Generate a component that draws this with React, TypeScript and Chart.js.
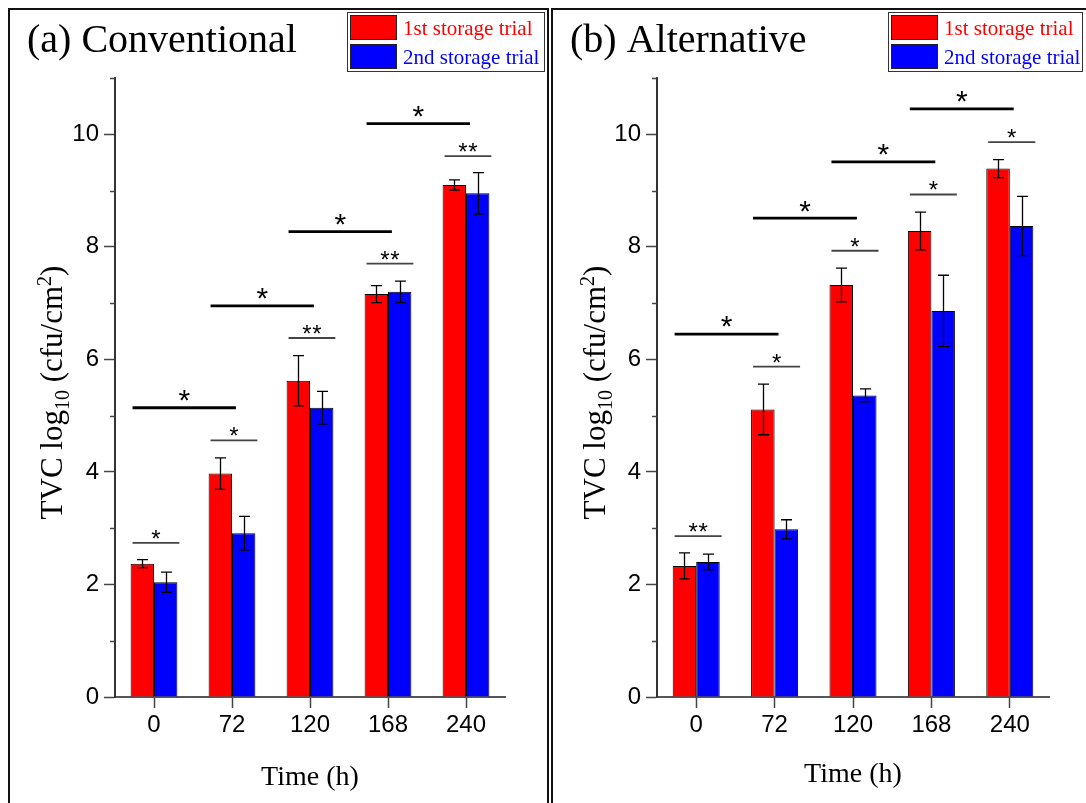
import React, { useEffect, useRef } from "react";
import { Chart, registerables } from "chart.js";

Chart.register(...registerables);

// ---------- data ----------
const timeLabels = ["0", "72", "120", "168", "240"];
const seriesNames = ["1st storage trial", "2nd storage trial"];
const yMax = 11;

// (a) Conventional
const convFirst = [2.37, 3.97, 5.62, 7.16, 9.1];
const convFirstErr = [0.07, 0.28, 0.445, 0.15, 0.09];
const convSecond = [2.04, 2.91, 5.14, 7.2, 8.95];
const convSecondErr = [0.18, 0.3, 0.29, 0.19, 0.37];
const convWithinLevel = [2.74, 4.56, 6.38, 7.7, 9.61];
const convWithinMark = ["*", "*", "**", "**", "**"];
const convBetweenLevel = [5.14, 6.95, 8.27, 10.19];
const convBetweenMark = ["*", "*", "*", "*"];

// (b) Alternative
const altFirst = [2.33, 5.11, 7.32, 8.28, 9.39];
const altFirstErr = [0.23, 0.45, 0.3, 0.335, 0.16];
const altSecond = [2.4, 2.98, 5.36, 6.86, 8.37];
const altSecondErr = [0.14, 0.17, 0.115, 0.635, 0.525];
const altWithinLevel = [2.86, 5.87, 7.93, 8.93, 9.86];
const altWithinMark = ["**", "*", "*", "*", "*"];
const altBetweenLevel = [6.45, 8.51, 9.51, 10.45];
const altBetweenMark = ["*", "*", "*", "*"];

const SERIF = '"Liberation Serif", "Times New Roman", Times, serif';
const SANS = '"Liberation Sans", Arial, Helvetica, sans-serif';
const RED = "#ff0000";
const BLUE = "#0000ff";

type PanelProps = {
  title: string;
  first: number[];
  firstErr: number[];
  second: number[];
  secondErr: number[];
  withinLevel: number[];
  withinMark: string[];
  betweenLevel: number[];
  betweenMark: string[];
  left: number;
  width: number;
  yAxisWidth: number;
  padRight: number;
  legendX: number;
  legendW: number;
  xTitlePad: number;
};

const CANVAS_H = 793;

function Panel(p: PanelProps) {
  const ref = useRef<HTMLCanvasElement>(null);

  useEffect(() => {
    const canvas = ref.current!;

    const overlay = {
      id: "overlay",
      afterDatasetsDraw(chart: any) {
        const ctx = chart.ctx as CanvasRenderingContext2D;
        const xs = chart.scales.x;
        const ys = chart.scales.y;
        // error bars
        const sets: [number[], number[]][] = [
          [p.first, p.firstErr],
          [p.second, p.secondErr],
        ];
        ctx.save();
        ctx.strokeStyle = "#000";
        ctx.lineWidth = 1.3;
        sets.forEach(([vals, errs], di) => {
          const meta = chart.getDatasetMeta(di);
          meta.data.forEach((bar: any, i: number) => {
            const x = Math.round(bar.x) + 0.5;
            const t = ys.getPixelForValue(vals[i] + errs[i]);
            const b = ys.getPixelForValue(vals[i] - errs[i]);
            const cap = 5.5;
            ctx.beginPath();
            ctx.moveTo(x, t);
            ctx.lineTo(x, b);
            ctx.moveTo(x - cap, t);
            ctx.lineTo(x + cap, t);
            ctx.moveTo(x - cap, b);
            ctx.lineTo(x + cap, b);
            ctx.stroke();
          });
        });
        // significance marks
        const w = xs.width / timeLabels.length;
        ctx.textAlign = "center";
        ctx.textBaseline = "alphabetic";
        p.withinLevel.forEach((lvl, i) => {
          const c = xs.getPixelForValue(i);
          const y = ys.getPixelForValue(lvl);
          ctx.strokeStyle = "#444";
          ctx.lineWidth = 1.8;
          ctx.beginPath();
          ctx.moveTo(c - 0.275 * w, y);
          ctx.lineTo(c + 0.325 * w, y);
          ctx.stroke();
          const size = 24;
          ctx.fillStyle = "#000";
          ctx.font = `${size}px ${SANS}`;
          const mark = p.withinMark[i];
          const cxm = c + 0.025 * w;
          const by = y - 10 + 0.58 * size;
          if (mark.length === 2) {
            ctx.fillText("*", cxm - 5, by);
            ctx.fillText("*", cxm + 5, by);
          } else {
            ctx.fillText(mark, cxm, by);
          }
        });
        p.betweenLevel.forEach((lvl, i) => {
          const c0 = xs.getPixelForValue(i);
          const c1 = xs.getPixelForValue(i + 1);
          const y = ys.getPixelForValue(lvl);
          const x0 = c0 - 0.275 * w;
          const x1 = c1 + 0.05 * w;
          ctx.strokeStyle = "#000";
          ctx.lineWidth = 2.8;
          ctx.beginPath();
          ctx.moveTo(x0, y);
          ctx.lineTo(x1, y);
          ctx.stroke();
          const size = 30;
          ctx.fillStyle = "#000";
          ctx.font = `${size}px ${SANS}`;
          ctx.fillText(p.betweenMark[i], (x0 + x1) / 2, y - 15 + 0.58 * size);
        });
        ctx.restore();
      },
      afterDraw(chart: any) {
        const ctx = chart.ctx as CanvasRenderingContext2D;
        const ys = chart.scales.y;
        const area = chart.chartArea;
        ctx.save();
        // minor ticks
        ctx.strokeStyle = "#444";
        ctx.lineWidth = 1.5;
        for (let v = 1; v <= yMax; v += 2) {
          const y = Math.round(ys.getPixelForValue(v)) + 0.5;
          ctx.beginPath();
          ctx.moveTo(area.left - 5, y);
          ctx.lineTo(area.left, y);
          ctx.stroke();
        }
        // y title with subscript / superscript
        const big = 31;
        const small = 20;
        const parts = [
          { t: "TVC log", s: big, dy: 0 },
          { t: "10", s: small, dy: 7 },
          { t: " (cfu/cm", s: big, dy: 0 },
          { t: "2", s: small, dy: -11 },
          { t: ")", s: big, dy: 0 },
        ];
        let total = 0;
        parts.forEach((pt) => {
          ctx.font = `${pt.s}px ${SERIF}`;
          total += ctx.measureText(pt.t).width;
        });
        const cx = 42;
        const cy = (area.top + area.bottom) / 2 + 5;
        ctx.translate(cx, cy);
        ctx.rotate(-Math.PI / 2);
        ctx.fillStyle = "#000";
        ctx.textAlign = "left";
        ctx.textBaseline = "alphabetic";
        let xx = -total / 2;
        const base = 10;
        parts.forEach((pt) => {
          ctx.font = `${pt.s}px ${SERIF}`;
          ctx.fillText(pt.t, xx, base + pt.dy);
          xx += ctx.measureText(pt.t).width;
        });
        ctx.setTransform(1, 0, 0, 1, 0, 0);
        // panel title
        ctx.font = `40px ${SERIF}`;
        ctx.textAlign = "left";
        ctx.fillStyle = "#000";
        ctx.fillText(p.title, 17, 42);
        // legend
        const lx = p.legendX;
        ctx.strokeStyle = "#333";
        ctx.lineWidth = 1;
        ctx.strokeRect(lx + 0.5, 2.5, p.legendW, 59);
        const sw = [
          { c: RED, y: 5, label: seriesNames[0] },
          { c: BLUE, y: 34, label: seriesNames[1] },
        ];
        sw.forEach((s) => {
          ctx.fillStyle = s.c;
          ctx.fillRect(lx + 3, s.y, 47, 25);
          ctx.strokeStyle = "#222";
          ctx.strokeRect(lx + 3.5, s.y + 0.5, 46, 24);
          ctx.font = `21px ${SERIF}`;
          ctx.fillStyle = s.c;
          ctx.fillText(s.label, lx + 56, s.y + 20);
        });
        ctx.restore();
      },
    };

    const chart = new Chart(canvas, {
      type: "bar",
      data: {
        labels: timeLabels,
        datasets: [
          {
            label: seriesNames[0],
            data: p.first,
            backgroundColor: RED,
            borderColor: "#000",
            borderWidth: 1,
            categoryPercentage: 0.6,
            barPercentage: 1,
          },
          {
            label: seriesNames[1],
            data: p.second,
            backgroundColor: BLUE,
            borderColor: "#000",
            borderWidth: 1,
            categoryPercentage: 0.6,
            barPercentage: 1,
          },
        ],
      },
      options: {
        responsive: false,
        animation: false,
        devicePixelRatio: 1,
        layout: { padding: { left: 0, right: p.padRight, top: 68, bottom: 0 } },
        plugins: { legend: { display: false }, tooltip: { enabled: false } },
        scales: {
          x: {
            grid: {
              display: true,
              drawOnChartArea: false,
              offset: false,
              tickLength: 11,
              tickColor: "#444",
              tickWidth: 1.5,
            },
            border: { display: true, color: "#555", width: 2 },
            ticks: { color: "#000", font: { family: SANS, size: 24 }, padding: 3 },
            title: {
              display: true,
              text: "Time (h)",
              color: "#000",
              font: { family: SERIF, size: 28 },
              padding: { top: 0, bottom: p.xTitlePad },
            },
            afterFit: (s: any) => {
              s.height = 106;
            },
          },
          y: {
            min: 0,
            max: yMax,
            ticks: {
              stepSize: 1,
              autoSkip: false,
              color: "#000",
              font: { family: SANS, size: 24 },
              padding: 5,
              callback: (v: any) => (Number(v) % 2 === 0 ? String(v) : ""),
            },
            grid: {
              drawOnChartArea: false,
              tickLength: 11,
              tickWidth: 1.5,
              tickColor: (c: any) =>
                c.tick && c.tick.value % 2 === 0 ? "#444" : "rgba(0,0,0,0)",
            },
            border: { display: true, color: "#333", width: 2 },
            afterFit: (s: any) => {
              s.width = p.yAxisWidth;
            },
          },
        },
      } as any,
      plugins: [overlay],
    });
    return () => chart.destroy();
  }, []);

  return (
    <canvas
      ref={ref}
      width={p.width}
      height={CANVAS_H}
      style={{
        position: "absolute",
        left: p.left,
        top: 10,
        width: p.width,
        height: CANVAS_H,
        display: "block",
      }}
    />
  );
}

export default function App() {
  return (
    <div
      style={{
        position: "fixed",
        left: 0,
        top: 0,
        width: 1086,
        height: 803,
        overflow: "hidden",
        background: "#fff",
      }}
    >
      <div
        style={{
          position: "absolute",
          left: 8,
          top: 8,
          width: 541,
          height: 830,
          border: "2px solid #111",
          boxSizing: "border-box",
        }}
      />
      <div
        style={{
          position: "absolute",
          left: 551,
          top: 8,
          width: 600,
          height: 830,
          border: "2px solid #111",
          boxSizing: "border-box",
        }}
      />
      <Panel
        title="(a) Conventional"
        first={convFirst}
        firstErr={convFirstErr}
        second={convSecond}
        secondErr={convSecondErr}
        withinLevel={convWithinLevel}
        withinMark={convWithinMark}
        betweenLevel={convBetweenLevel}
        betweenMark={convBetweenMark}
        left={10}
        width={536}
        yAxisWidth={105}
        padRight={41}
        legendX={337}
        legendW={197}
        xTitlePad={9}
      />
      <Panel
        title="(b) Alternative"
        first={altFirst}
        firstErr={altFirstErr}
        second={altSecond}
        secondErr={altSecondErr}
        withinLevel={altWithinLevel}
        withinMark={altWithinMark}
        betweenLevel={altBetweenLevel}
        betweenMark={altBetweenMark}
        left={553}
        width={533}
        yAxisWidth={104}
        padRight={37}
        legendX={335}
        legendW={194}
        xTitlePad={12}
      />
    </div>
  );
}
